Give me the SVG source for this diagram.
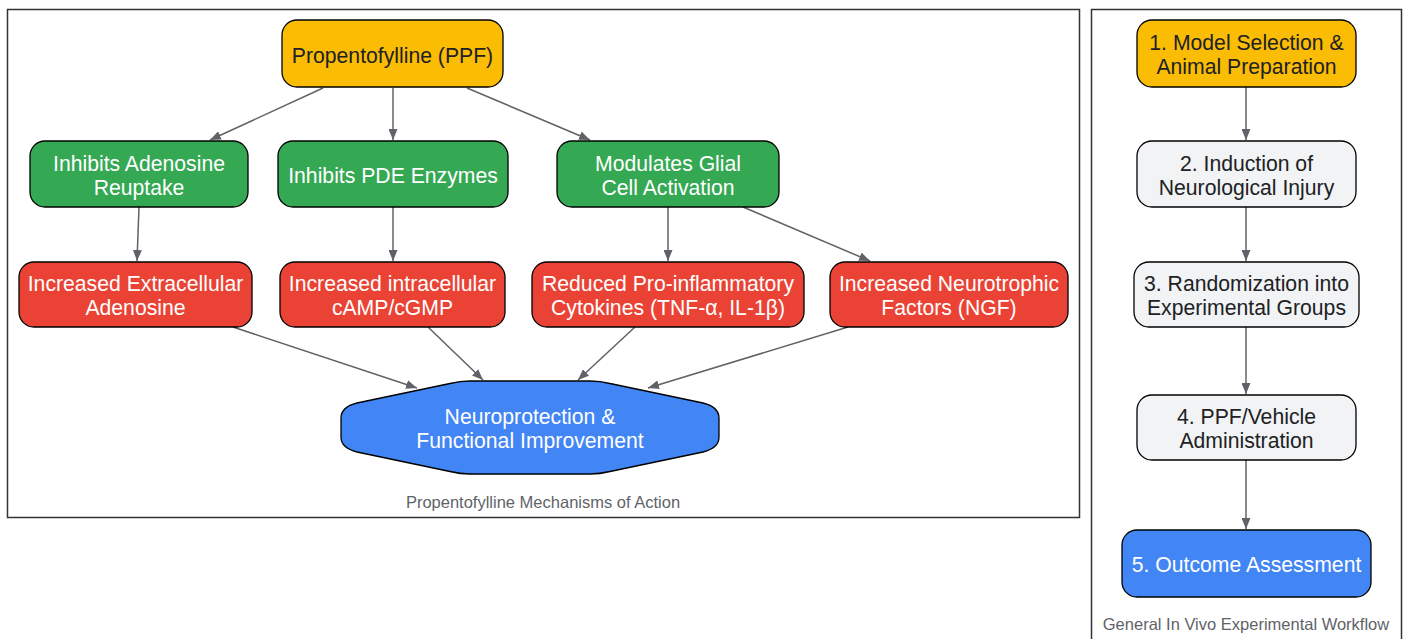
<svg xmlns="http://www.w3.org/2000/svg" width="1407" height="639" viewBox="0 0 1407 639">
<defs>
<marker id="arr" markerUnits="userSpaceOnUse" markerWidth="11" markerHeight="9" refX="11" refY="4.5" orient="auto">
<path d="M0,0 L11,4.5 L0,9 z" fill="#5F6368"/>
</marker>
<style>
.cl{fill:#fff;stroke:#333;stroke-width:1.5}
.cll{font-family:"Liberation Sans",Arial,sans-serif;font-size:16.5px;fill:#5F6368;text-anchor:middle}
.n{stroke:#000;stroke-width:1.3}
.t{font-family:"Liberation Sans",Arial,sans-serif;font-size:21.2px;text-anchor:middle}
.w{fill:#fff}
.d{fill:#202124}
.e line{stroke:#5F6368;stroke-width:1.5;marker-end:url(#arr)}
</style>
</defs>
<rect width="1407" height="639" fill="#fff"/>
<g id="cluster-mech">
<rect class="cl" x="7.5" y="9.5" width="1072" height="508"/>
<text class="cll" x="543" y="508">Propentofylline Mechanisms of Action</text>
</g>
<g id="cluster-workflow">
<rect class="cl" x="1091.5" y="9.5" width="310" height="640"/>
<text class="cll" x="1246" y="630">General In Vivo Experimental Workflow</text>
</g>
<g class="e" id="connectors">
<line x1="323" y1="88" x2="210" y2="140"/>
<line x1="393" y1="88" x2="393" y2="140"/>
<line x1="467" y1="88" x2="590" y2="140"/>
<line x1="139" y1="207" x2="137" y2="261"/>
<line x1="393" y1="207" x2="393" y2="261"/>
<line x1="668" y1="207" x2="668" y2="261"/>
<line x1="743" y1="207" x2="870" y2="261"/>
<line x1="233" y1="327" x2="417" y2="388"/>
<line x1="428" y1="327" x2="483" y2="380"/>
<line x1="635" y1="327" x2="578" y2="380"/>
<line x1="848" y1="327" x2="648" y2="388"/>
<line x1="1246" y1="87" x2="1246" y2="140"/>
<line x1="1246" y1="207" x2="1246" y2="261"/>
<line x1="1246" y1="327" x2="1246" y2="394"/>
<line x1="1246" y1="460" x2="1246" y2="529"/>
</g>
<g id="ppf">
<rect class="n" x="282" y="20" width="221" height="67" rx="15" fill="#FBBC04"/>
<text class="t d" x="392.5" y="62.5">Propentofylline (PPF)</text>
</g>
<g id="adenosine-reuptake">
<rect class="n" x="30" y="141" width="218" height="66" rx="15" fill="#34A853"/>
<text class="t w" x="139" y="171">Inhibits Adenosine</text>
<text class="t w" x="139" y="195">Reuptake</text>
</g>
<g id="pde">
<rect class="n" x="278" y="141" width="230" height="66" rx="15" fill="#34A853"/>
<text class="t w" x="393" y="183">Inhibits PDE Enzymes</text>
</g>
<g id="glial">
<rect class="n" x="557" y="141" width="222" height="66" rx="15" fill="#34A853"/>
<text class="t w" x="668" y="171">Modulates Glial</text>
<text class="t w" x="668" y="195">Cell Activation</text>
</g>
<g id="extracellular">
<rect class="n" x="19" y="262" width="233" height="65" rx="15" fill="#EA4335"/>
<text class="t w" x="135.5" y="291">Increased Extracellular</text>
<text class="t w" x="135.5" y="315">Adenosine</text>
</g>
<g id="camp">
<rect class="n" x="280" y="262" width="225" height="65" rx="15" fill="#EA4335"/>
<text class="t w" x="392.5" y="291">Increased intracellular</text>
<text class="t w" x="392.5" y="315">cAMP/cGMP</text>
</g>
<g id="cytokines">
<rect class="n" x="532" y="262" width="272" height="65" rx="15" fill="#EA4335"/>
<text class="t w" x="668" y="291">Reduced Pro-inflammatory</text>
<text class="t w" x="668" y="315">Cytokines (TNF-α, IL-1β)</text>
</g>
<g id="neurotrophic">
<rect class="n" x="830" y="262" width="238" height="65" rx="15" fill="#EA4335"/>
<text class="t w" x="949" y="291">Increased Neurotrophic</text>
<text class="t w" x="949" y="315">Factors (NGF)</text>
</g>
<g id="neuroprotection">
<path class="n" fill="#4285F4" d="M470,381 L590,381 Q600,381 610,383.5 L703,403 Q719,407 719,418 L719,437 Q719,448 703,452 L610,471.5 Q600,474 590,474 L470,474 Q460,474 450,471.5 L357,452 Q341,448 341,437 L341,418 Q341,407 357,403 L450,383.5 Q460,381 470,381 Z"/>
<text class="t w" x="530" y="424">Neuroprotection &amp;</text>
<text class="t w" x="530" y="448">Functional Improvement</text>
</g>
<g id="step1">
<rect class="n" x="1137" y="20" width="219" height="67" rx="15" fill="#FBBC04"/>
<text class="t d" x="1246.5" y="50">1. Model Selection &amp;</text>
<text class="t d" x="1246.5" y="74">Animal Preparation</text>
</g>
<g id="step2">
<rect class="n" x="1137" y="141" width="219" height="66" rx="15" fill="#F1F3F4"/>
<text class="t d" x="1246.5" y="171">2. Induction of</text>
<text class="t d" x="1246.5" y="195">Neurological Injury</text>
</g>
<g id="step3">
<rect class="n" x="1134" y="262" width="225" height="65" rx="15" fill="#F1F3F4"/>
<text class="t d" x="1246.5" y="291">3. Randomization into</text>
<text class="t d" x="1246.5" y="315">Experimental Groups</text>
</g>
<g id="step4">
<rect class="n" x="1137" y="395" width="219" height="65" rx="15" fill="#F1F3F4"/>
<text class="t d" x="1246.5" y="424">4. PPF/Vehicle</text>
<text class="t d" x="1246.5" y="448">Administration</text>
</g>
<g id="step5">
<rect class="n" x="1122" y="530" width="249" height="67" rx="15" fill="#4285F4"/>
<text class="t w" x="1246.5" y="572">5. Outcome Assessment</text>
</g>
</svg>
